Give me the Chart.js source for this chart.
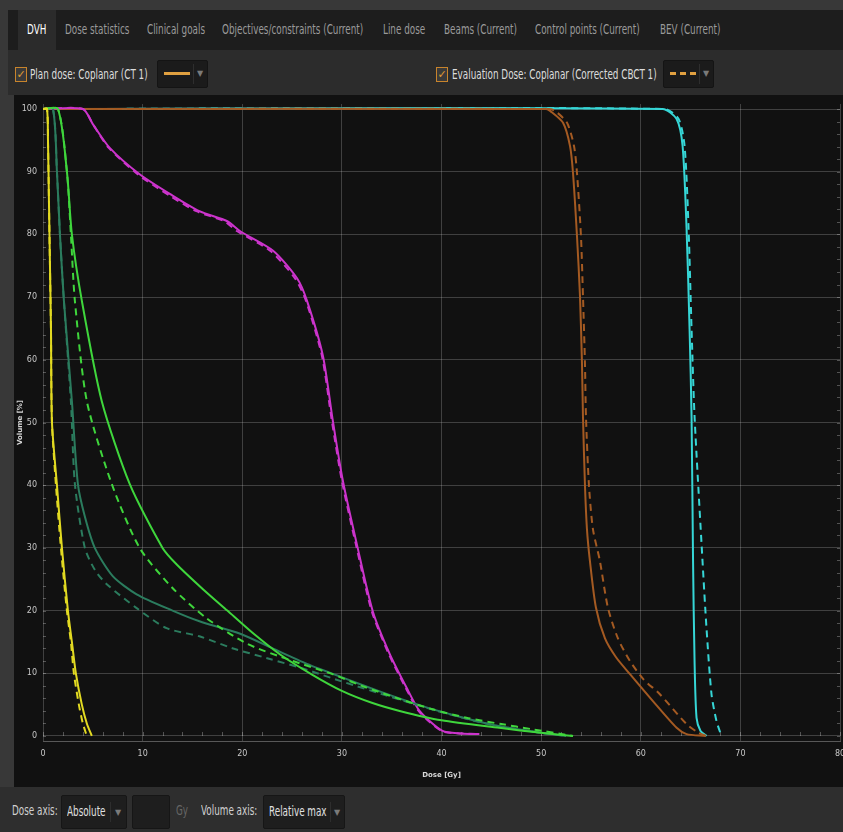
<!DOCTYPE html>
<html>
<head>
<meta charset="utf-8">
<script src="https://cdn.jsdelivr.net/npm/chart.js@4.4.1/dist/chart.umd.min.js"></script>
<style>
  html, body { margin: 0; padding: 0; }
  body {
    width: 843px; height: 832px; overflow: hidden; position: relative;
    background: #383838;
    font-family: 'DejaVu Sans', sans-serif;
  }
  .abs { position: absolute; white-space: nowrap; }
  .nar { transform: scaleX(0.63); transform-origin: 0 50%; font-size: 14px; }
  #tabbar { left: 8px; top: 10px; width: 835px; height: 40px; background: #1d1d1d; }
  #tabDvh { left: 18px; top: 10px; width: 38px; height: 40px; background: #2b2b2b; }
  .tab { top: 21px; color: #9a9a9a; }
  #checkrow { left: 8px; top: 50px; width: 835px; height: 45px; background: #2c2c2c; }
  .chk { width: 10px; height: 13px; border: 1px solid #c8842c; background: #3a3a3a; color: #e09a30;
         font-size: 11px; line-height: 13px; text-align: center; top: 67px; }
  .lbl { top: 66px; color: #dcdcdc; }
  .drop { top: 60px; height: 26px; background: #1b1b1b; border: 1px solid #141414; border-radius: 2px; }
  .sep { top: 3px; width: 1px; height: 20px; background: #2e2e2e; }
  .arrow { color: #7a7a7a; font-size: 8px; }
  #plot { left: 14px; top: 95px; width: 829px; height: 692px; background: #111111; }
  #bottombar { left: 0; top: 787px; width: 843px; height: 45px; background: #2e2e2e; }
  .blbl { top: 802px; color: #d0d0d0; }
  .bbox { top: 795px; height: 32px; background: #1e1e1e; border: 1px solid #161616; border-radius: 2px; }
</style>
</head>
<body>
<div class="abs" id="tabbar"></div>
<div class="abs" id="tabDvh"></div>
<div class="abs tab nar" style="left:27px;color:#ffffff;">DVH</div>
<div class="abs tab nar" style="left:65px;">Dose statistics</div>
<div class="abs tab nar" style="left:147px;">Clinical goals</div>
<div class="abs tab nar" style="left:222px;">Objectives/constraints (Current)</div>
<div class="abs tab nar" style="left:383px;">Line dose</div>
<div class="abs tab nar" style="left:444px;">Beams (Current)</div>
<div class="abs tab nar" style="left:535px;">Control points (Current)</div>
<div class="abs tab nar" style="left:660px;">BEV (Current)</div>

<div class="abs" id="checkrow"></div>
<div class="abs chk" style="left:15px;">&#10003;</div>
<div class="abs lbl nar" style="left:30px;">Plan dose: Coplanar (CT 1)</div>
<div class="abs drop" style="left:157px;width:49px;">
  <div class="abs" style="left:6px;top:11px;width:26px;height:3px;background:#e0a040;"></div>
  <div class="abs sep" style="left:35px;"></div>
  <div class="abs arrow" style="left:39px;top:8px;">&#9660;</div>
</div>
<div class="abs chk" style="left:436px;">&#10003;</div>
<div class="abs lbl nar" style="left:452px;">Evaluation Dose: Coplanar (Corrected CBCT 1)</div>
<div class="abs drop" style="left:663px;width:49px;">
  <div class="abs" style="left:6px;top:11px;width:26px;height:3px;background:repeating-linear-gradient(90deg,#e0a040 0 6px,transparent 6px 10px);"></div>
  <div class="abs sep" style="left:35px;"></div>
  <div class="abs arrow" style="left:39px;top:8px;">&#9660;</div>
</div>

<div class="abs" id="plot"><canvas id="dvhChart" width="829" height="692"></canvas></div>

<div class="abs" id="bottombar"></div>
<div class="abs blbl nar" style="left:12px;">Dose axis:</div>
<div class="abs bbox" style="left:61px;width:64px;">
  <div class="abs nar" style="left:5px;top:7px;color:#e0e0e0;">Absolute</div>
  <div class="abs sep" style="left:48px;top:6px;"></div>
  <div class="abs arrow" style="left:53px;top:12px;">&#9660;</div>
</div>
<div class="abs bbox" style="left:132px;width:36px;"></div>
<div class="abs blbl nar" style="left:176px;color:#666;">Gy</div>
<div class="abs blbl nar" style="left:201px;">Volume axis:</div>
<div class="abs bbox" style="left:263px;width:80px;">
  <div class="abs nar" style="left:5px;top:7px;color:#e0e0e0;">Relative max</div>
  <div class="abs sep" style="left:66px;top:6px;"></div>
  <div class="abs arrow" style="left:70px;top:12px;">&#9660;</div>
</div>

<script>
const doseTicks = [0, 10, 20, 30, 40, 50, 60, 70, 80];
const volumeTicks = [0, 10, 20, 30, 40, 50, 60, 70, 80, 90, 100];

// yellow structure
const yellowPlanDose = [0, 0.4, 0.5, 0.6, 0.7, 0.8, 0.9, 1.4, 1.9, 2.5, 2.9, 3.3, 3.9, 4.4, 4.9];
const yellowPlanVol  = [100, 100, 95, 85, 75, 65, 50, 40, 30, 20, 15, 10, 5, 2, 0];
const yellowEvalDose = [0, 0.4, 0.5, 0.6, 0.7, 0.8, 0.9, 1.3, 1.8, 2.4, 2.8, 3.1, 3.6, 4.0, 4.4];
const yellowEvalVol  = [100, 100, 95, 85, 75, 65, 50, 40, 30, 20, 15, 10, 5, 2, 0];

// dark teal structure
const tealPlanDose = [0, 1.0, 1.4, 1.7, 2.1, 2.9, 3.5, 4.2, 5.2, 7.0, 9.4, 13.0, 15.7, 19.8, 23.0, 26.5, 30.1, 34, 38, 42, 46, 50, 52.5];
const tealPlanVol  = [100, 100, 90, 80, 69.4, 53.4, 40.2, 35, 30, 25.5, 22.6, 20, 18.3, 16.3, 14.0, 11.5, 9.3, 7.0, 4.8, 3.0, 1.5, 0.5, 0];
const tealEvalDose = [0, 1.0, 1.4, 1.7, 2.1, 2.8, 3.2, 4.2, 5.2, 6.4, 9.4, 12.4, 15.7, 19.0, 22.5, 26, 30, 35, 40, 45, 50, 52.5];
const tealEvalVol  = [100, 100, 90, 80, 69.4, 53.4, 40.2, 30, 26.5, 24.2, 20.4, 17.2, 15.9, 14.0, 12.4, 10.8, 8.7, 6.2, 3.8, 1.8, 0.5, 0];

// bright green structure
const greenPlanDose = [0, 1.5, 2.4, 2.9, 3.9, 5.9, 8.7, 12.0, 13.4, 16, 18.5, 21, 23.8, 27, 30, 33, 35.8, 40, 45.8, 50, 53.2];
const greenPlanVol  = [100, 100, 90, 80, 69.4, 53.4, 40.2, 30, 27.4, 23.5, 20, 16.5, 13, 9.8, 7.2, 5.3, 4.0, 2.5, 1.3, 0.5, 0];
const greenEvalDose = [0, 1.5, 2.4, 2.8, 3.2, 4.4, 6.9, 9.7, 13.0, 16.4, 20.5, 25, 29, 32, 35.8, 39, 42.5, 46, 49, 53.2];
const greenEvalVol  = [100, 100, 90, 80, 69.4, 53.4, 40.2, 30, 23.6, 18.8, 14.7, 12, 9.9, 8, 5.9, 4.3, 2.9, 1.9, 1.1, 0];

// magenta structure
const magentaPlanDose = [0, 4.0, 5.0, 6.7, 9.7, 13.0, 15.7, 18.5, 19.8, 23.1, 25.5, 26.5, 28.1, 29.1, 30.1, 31.5, 33.1, 34.8, 36.5, 37.8, 40.1, 42, 43.8];
const magentaPlanVol  = [100, 100, 97.6, 93.8, 89.6, 86.2, 83.7, 82.1, 80.5, 77.4, 73.0, 69.4, 60.6, 50.2, 40.7, 30.6, 19.9, 13.1, 7.7, 4.0, 0.8, 0.4, 0.3];
const magentaEvalDose = [0, 4.0, 5.0, 6.6, 9.5, 12.7, 15.4, 18.2, 19.5, 22.8, 25.3, 26.4, 28.0, 29.0, 30.0, 31.4, 33.0, 34.7, 36.4, 37.7, 40.0, 42, 43.8];
const magentaEvalVol  = [100, 100, 97.6, 93.8, 89.6, 86.2, 83.7, 82.1, 80.5, 77.4, 73.0, 69.4, 60.6, 50.2, 40.7, 30.6, 19.9, 13.1, 7.7, 4.0, 0.8, 0.4, 0.3];

// brown structure
const brownPlanDose = [0, 50.5, 50.9, 52.2, 52.9, 53.2, 53.6, 53.9, 54.1, 54.2, 54.4, 54.6, 54.9, 55.5, 56.4, 57.5, 58.9, 61.2, 63.6, 64.6, 66.5];
const brownPlanVol  = [100, 100, 99.7, 97.8, 94.1, 89.8, 79.7, 70.2, 59.5, 51, 40, 33, 27.9, 20.5, 15.6, 12.6, 9.9, 5.6, 1.3, 0.3, 0];
const brownEvalDose = [0, 50.8, 51.4, 52.6, 53.3, 53.6, 54.0, 54.2, 54.4, 54.5, 54.8, 55.2, 55.9, 56.7, 57.7, 58.9, 60.3, 61.9, 64.6, 65.8, 66.6];
const brownEvalVol  = [100, 100, 99.7, 97.8, 94.1, 89.8, 79.7, 70.2, 59.5, 51, 40, 33, 27.9, 20.5, 15.6, 12, 9, 6.7, 1.9, 0.5, 0];

// cyan structure
const cyanPlanDose = [0, 62.2, 63.6, 64.2, 64.6, 64.9, 65.1, 65.25, 65.4, 65.6, 66.0, 66.6];
const cyanPlanVol  = [100, 100, 98.4, 94.1, 80.9, 64.9, 51, 27.9, 12, 2.9, 0.8, 0];
const cyanEvalDose = [0, 62.4, 63.8, 64.4, 64.8, 65.1, 65.4, 66.2, 66.6, 67.1, 67.6, 68.1];
const cyanEvalVol  = [100, 100, 98.4, 94.1, 80.9, 64.9, 51, 27.9, 17.2, 6.7, 2.4, 0];

function toPoints(dose, vol) {
    return dose.map((d, i) => ({ x: d, y: vol[i] }));
}

function curve(dose, vol, color, dashed) {
    return {
        data: toPoints(dose, vol),
        borderColor: color,
        borderWidth: 2,
        borderDash: dashed ? [7, 5] : [],
        pointRadius: 0,
        tension: 0.25,
        fill: false
    };
}

// minor tick marks along the frame, placed through the scales
const minorTicks = {
    id: 'minorTicks',
    beforeDatasetsDraw(chart) {
        const { ctx, chartArea, scales: { x, y } } = chart;
        ctx.save();
        ctx.strokeStyle = 'rgba(255,255,255,0.28)';
        ctx.lineWidth = 1;
        ctx.beginPath();
        for (let d = 0; d <= 80; d += 2) {
            const px = Math.round(x.getPixelForValue(d)) + 0.5;
            ctx.moveTo(px, y.getPixelForValue(0));
            ctx.lineTo(px, y.getPixelForValue(0) - 4);
        }
        for (let v = 0; v <= 100; v += 2) {
            const py = Math.round(y.getPixelForValue(v)) + 0.5;
            ctx.moveTo(chartArea.left, py);
            ctx.lineTo(chartArea.left + 3, py);
            ctx.moveTo(chartArea.right, py);
            ctx.lineTo(chartArea.right - 3, py);
        }
        ctx.stroke();
        ctx.restore();
    }
};

const tickFont = { family: "'DejaVu Sans', sans-serif", size: 8 };

window.addEventListener("DOMContentLoaded", () => {
    const ctx = document.getElementById('dvhChart');
    new Chart(ctx, {
        type: 'line',
        data: {
            datasets: [
                curve(yellowPlanDose, yellowPlanVol, '#e2da22', false),
                curve(yellowEvalDose, yellowEvalVol, '#e2da22', true),
                curve(greenPlanDose, greenPlanVol, '#3fd63c', false),
                curve(greenEvalDose, greenEvalVol, '#3fd63c', true),
                curve(tealPlanDose, tealPlanVol, '#2b7c5e', false),
                curve(tealEvalDose, tealEvalVol, '#2b7c5e', true),
                curve(magentaPlanDose, magentaPlanVol, '#cc34cc', false),
                curve(magentaEvalDose, magentaEvalVol, '#cc34cc', true),
                curve(brownPlanDose, brownPlanVol, '#a45a22', false),
                curve(brownEvalDose, brownEvalVol, '#a45a22', true),
                curve(cyanPlanDose, cyanPlanVol, '#36d6d6', false),
                curve(cyanEvalDose, cyanEvalVol, '#36d6d6', true)
            ]
        },
        options: {
            responsive: false,
            animation: false,
            devicePixelRatio: 1,
            layout: { padding: { left: 0, right: 3, top: 9, bottom: 0 } },
            plugins: {
                legend: { display: false },
                tooltip: { enabled: false }
            },
            scales: {
                x: {
                    type: 'linear',
                    min: doseTicks[0],
                    max: doseTicks[doseTicks.length - 1],
                    afterBuildTicks: s => { s.ticks = doseTicks.map(v => ({ value: v })); },
                    afterFit: s => { s.height = 46; s.paddingLeft = 0; s.paddingRight = 0; },
                    grid: { color: 'rgba(255,255,255,0.2)', drawTicks: false },
                    border: { color: 'rgba(255,255,255,0.3)' },
                    ticks: { color: '#c8c8c8', padding: 8, maxRotation: 0, font: tickFont },
                    title: { display: true, text: 'Dose [Gy]', color: '#d8d8d8', padding: { top: 2, bottom: 8 },
                             font: { family: "'DejaVu Sans', sans-serif", size: 7, weight: 'bold' } }
                },
                y: {
                    type: 'linear',
                    min: -0.8,
                    max: 100.8,
                    afterBuildTicks: s => { s.ticks = volumeTicks.map(v => ({ value: v })); },
                    afterFit: s => { s.width = 29; s.paddingTop = 0; s.paddingBottom = 0; },
                    grid: { color: 'rgba(255,255,255,0.2)', drawTicks: false },
                    border: { display: false },
                    ticks: { color: '#c8c8c8', padding: 6, font: tickFont },
                    title: { display: true, text: 'Volume [%]', color: '#d8d8d8', padding: { top: 2, bottom: 0 },
                             font: { family: "'DejaVu Sans', sans-serif", size: 7, weight: 'bold' } }
                }
            }
        },
        plugins: [minorTicks]
    });
});
</script>
</body>
</html>
